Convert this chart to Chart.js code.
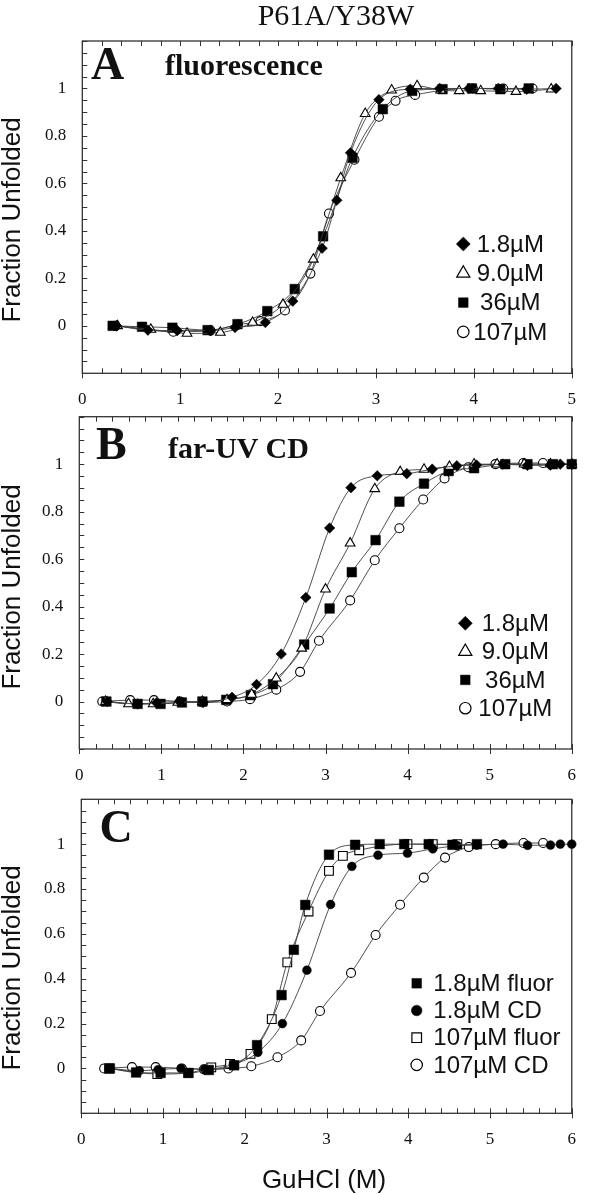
<!DOCTYPE html>
<html>
<head>
<meta charset="utf-8">
<title>P61A/Y38W</title>
<script src="https://cdn.jsdelivr.net/npm/chart.js@4.4.1/dist/chart.umd.min.js"></script>
<style>
  body { margin: 0; background: #fff; }
  #page { position: relative; width: 592px; height: 1194px; overflow: hidden; }
  canvas.panel { position: absolute; left: 0; }
  .txt { position: absolute; white-space: nowrap; line-height: 1; color: #111; }
  .serif { font-family: "Liberation Serif", "Times New Roman", serif; }
  .sans { font-family: "Liberation Sans", Arial, sans-serif; }
  .ytitle { font-size: 26px; transform: translate(-50%, -50%) rotate(-90deg); }
  .letter { font-size: 46px; font-weight: bold; }
  .sub { font-size: 30px; font-weight: bold; }
</style>
</head>
<body>
<div id="page">
  <canvas id="panelA" class="panel" width="592" height="420" style="top:0px"></canvas>
  <canvas id="panelB" class="panel" width="592" height="415" style="top:380px"></canvas>
  <canvas id="panelC" class="panel" width="592" height="424" style="top:770px"></canvas>

  <div class="txt serif" style="left:236px;width:200px;text-align:center;top:0px;font-size:30px">P61A/Y38W</div>

  <div class="txt serif letter" style="left:91px;top:40.5px">A</div>
  <div class="txt serif sub" style="left:165px;top:50px">fluorescence</div>
  <div class="txt serif letter" style="left:96px;top:421px">B</div>
  <div class="txt serif sub" style="left:168px;top:432.5px">far-UV CD</div>
  <div class="txt serif letter" style="left:99.5px;top:803.5px">C</div>

  <div class="txt sans ytitle" style="left:11px;top:220px">Fraction Unfolded</div>
  <div class="txt sans ytitle" style="left:11px;top:587px">Fraction Unfolded</div>
  <div class="txt sans ytitle" style="left:11px;top:968px">Fraction Unfolded</div>
  <div class="txt sans" style="left:324px;top:1179px;font-size:26px;transform:translate(-50%,-50%)">GuHCl (M)</div>
</div>

<script>
// GuHCl (M) and fraction unfolded
// fluorescence
const fl18X  = [0.35, 0.67, 0.97, 1.31, 1.56, 1.87, 2.15, 2.45, 2.60, 2.74, 3.03, 3.35, 3.65, 3.95, 4.25, 4.54, 4.84];
const fl18Y  = [0, -0.018, -0.02, -0.02, -0.007, 0.014, 0.104, 0.327, 0.529, 0.729, 0.953, 0.997, 1.0, 1.0, 1.0, 0.997, 1.0];
const fl90X  = [0.36, 0.70, 1.07, 1.41, 1.74, 2.05, 2.36, 2.64, 2.89, 3.16, 3.42, 3.66, 3.85, 4.07, 4.43, 4.79];
const fl90Y  = [0, -0.015, -0.032, -0.028, 0.014, 0.09, 0.28, 0.623, 0.894, 0.993, 1.011, 0.993, 0.99, 0.99, 0.987, 0.997];
const fl36X  = [0.31, 0.61, 0.92, 1.28, 1.585, 1.89, 2.17, 2.46, 2.76, 3.07, 3.37, 3.68, 3.98, 4.27, 4.56];
const fl36Y  = [0, -0.004, -0.008, -0.018, 0.007, 0.062, 0.155, 0.377, 0.708, 0.913, 0.99, 0.997, 1.0, 0.997, 1.0];
const fl107X = [0.34, 0.93, 1.31, 1.59, 1.82, 2.07, 2.33, 2.52, 2.78, 3.03, 3.20, 3.40, 3.99, 4.30, 4.60];
const fl107Y = [0, -0.025, -0.02, 0.005, 0.02, 0.065, 0.22, 0.473, 0.70, 0.881, 0.948, 0.973, 1.0, 1.0, 1.0];
// far-UV CD
const cd18X  = [0.34, 0.71, 0.94, 1.22, 1.51, 1.86, 2.16, 2.46, 2.76, 3.05, 3.31, 3.63, 3.99, 4.30, 4.60, 4.84, 5.16, 5.46, 5.74, 5.86, 6.0];
const cd18Y  = [0, -0.01, -0.005, 0, -0.003, 0.018, 0.072, 0.20, 0.438, 0.731, 0.901, 0.951, 0.96, 0.979, 0.993, 0.996, 1.0, 0.995, 0.996, 1.0, 1.0];
const cd90X  = [0.32, 0.60, 0.90, 1.20, 1.50, 1.80, 2.10, 2.40, 2.71, 3.00, 3.30, 3.60, 3.91, 4.20, 4.51, 4.81, 5.09, 5.42, 5.74, 6.0];
const cd90Y  = [0, -0.01, -0.01, -0.004, 0, 0.007, 0.03, 0.098, 0.224, 0.473, 0.667, 0.896, 0.968, 0.978, 0.99, 1.0, 1.0, 1.0, 1.0, 1.0];
const cd36X  = [0.33, 0.71, 0.99, 1.25, 1.50, 1.79, 2.09, 2.36, 2.74, 3.05, 3.32, 3.61, 3.90, 4.20, 4.50, 4.81, 5.19, 5.46, 5.77, 6.0];
const cd36Y  = [0, -0.01, -0.01, -0.004, 0, 0.007, 0.027, 0.073, 0.24, 0.392, 0.545, 0.68, 0.842, 0.918, 0.971, 0.983, 1.0, 1.0, 1.0, 1.0];
const cd107X = [0.28, 0.62, 0.91, 1.23, 1.50, 1.80, 2.08, 2.40, 2.69, 2.92, 3.30, 3.60, 3.90, 4.19, 4.45, 4.74, 5.07, 5.41, 5.65];
const cd107Y = [0, 0.006, 0.006, 0, -0.004, 0, 0.01, 0.05, 0.125, 0.256, 0.426, 0.595, 0.73, 0.851, 0.94, 0.987, 1.0, 1.005, 1.005];

const xTickLabels = ['0', '1', '2', '3', '4', '5', '6'];
const yTickLabels = ['0', '0.2', '0.4', '0.6', '0.8', '1'];

// marker looks (SigmaPlot style symbols)
const marks = {
  diamond:  { pointStyle: 'rectRot',  radius: 5.3, legendRadius: 7.0, filled: true },
  triangle: { pointStyle: 'triangle', radius: 5.6, legendRadius: 7.6, filled: false },
  square:   { pointStyle: 'rect',     radius: 6.8, legendRadius: 6.8, filled: true },
  circle:   { pointStyle: 'circle',   radius: 4.5, legendRadius: 5.7, filled: false },
  openSq:   { pointStyle: 'rect',     radius: 6.2, legendRadius: 6.8, filled: false },
  dot:      { pointStyle: 'circle',   radius: 4.4, legendRadius: 5.3, filled: true }
};

function series(label, xs, ys, m) {
  return {
    label: label,
    data: xs.map((x, i) => ({ x: x, y: ys[i] })),
    showLine: true,
    borderColor: '#3c3c3c',
    borderWidth: 0.9,
    cubicInterpolationMode: 'monotone',
    pointStyle: m.pointStyle,
    pointRadius: m.radius,
    pointBackgroundColor: m.filled ? '#000' : '#fff',
    pointBorderColor: '#000',
    pointBorderWidth: m.filled ? 0.5 : 1.1,
    clip: false,
    marker: m
  };
}

// frame, inward ticks and the boxed legend inside the plot
const decor = {
  id: 'decor',
  beforeDatasetsDraw(chart) {
    const ctx = chart.ctx;
    const { left, right, top, bottom } = chart.chartArea;
    const xs = chart.scales.x, ys = chart.scales.y;
    ctx.save();
    ctx.strokeStyle = '#333';
    ctx.lineWidth = 1;
    ctx.beginPath();
    for (let k = 0; k <= xs.max * 5; k++) {
      const px = Math.round(xs.getPixelForValue(k / 5)) + 0.5;
      const major = k % 5 === 0;
      ctx.moveTo(px, bottom - 5);
      ctx.lineTo(px, bottom + (major ? 5 : 0));
      ctx.moveTo(px, top);
      ctx.lineTo(px, top + 5);
    }
    for (let k = -4; k <= 24; k++) {
      const py = Math.round(ys.getPixelForValue(k / 20)) + 0.5;
      ctx.moveTo(left, py);
      ctx.lineTo(left + 5, py);
    }
    ctx.stroke();
    ctx.lineWidth = 1.3;
    ctx.strokeRect(left, top, right - left, bottom - top);
    ctx.restore();
  },
  afterDraw(chart, args, opts) {
    const ctx = chart.ctx;
    const { left, top } = chart.chartArea;
    ctx.save();
    ctx.font = '24px "Liberation Sans", Arial, sans-serif';
    ctx.textBaseline = 'middle';
    ctx.textAlign = opts.align;
    chart.data.datasets.forEach((ds, i) => {
      const m = ds.marker;
      const y = top + opts.rowTop + i * opts.rowGap;
      ctx.fillStyle = m.filled ? '#000' : '#fff';
      ctx.strokeStyle = '#000';
      ctx.lineWidth = m.filled ? 0.5 : 1.2;
      Chart.helpers.drawPoint(ctx, { pointStyle: m.pointStyle, radius: m.legendRadius, rotation: 0, borderWidth: ctx.lineWidth }, left + opts.markX, y);
      ctx.fillStyle = '#111';
      ctx.fillText(ds.label, left + opts.textX, y + 1);
    });
    ctx.restore();
  }
};

function panel(id, datasets, cfg) {
  const tickFont = { family: '"Liberation Serif", "Times New Roman", serif', size: 17 };
  return new Chart(document.getElementById(id), {
    type: 'scatter',
    data: { datasets: datasets },
    options: {
      responsive: false,
      animation: false,
      events: [],
      layout: { autoPadding: false, padding: { top: cfg.padTop, right: cfg.padRight, left: 0, bottom: 0 } },
      plugins: {
        legend: { display: false },
        tooltip: { enabled: false },
        decor: cfg.legend
      },
      scales: {
        x: {
          type: 'linear', min: 0, max: cfg.xMax,
          grid: { display: false, drawTicks: false },
          border: { display: false },
          afterFit: s => { s.height = cfg.xAxisH; },
          ticks: { stepSize: 1, padding: 16, color: '#111', font: tickFont, maxRotation: 0,
                   callback: v => xTickLabels[v] }
        },
        y: {
          type: 'linear', min: -0.2, max: 1.2,
          grid: { display: false, drawTicks: false },
          border: { display: false },
          afterFit: s => { s.width = cfg.yAxisW; },
          ticks: { stepSize: 0.2, padding: 16, color: '#111', font: tickFont,
                   callback: v => { const i = Math.round(v / 0.2); return (i >= 0 && i < yTickLabels.length) ? yTickLabels[i] : null; } }
        }
      }
    },
    plugins: [decor]
  });
}

panel('panelA', [
  series('1.8\u00b5M', fl18X, fl18Y, marks.diamond),
  series('9.0\u00b5M', fl90X, fl90Y, marks.triangle),
  series('36\u00b5M', fl36X, fl36Y, marks.square),
  series('107\u00b5M', fl107X, fl107Y, marks.circle)
], { xMax: 5, padTop: 41, padRight: 4, xAxisH: 46.7, yAxisW: 82.3,
     legend: { align: 'center', markX: 381, textX: 428, rowTop: 203, rowGap: 29.3 } });

panel('panelB', [
  series('1.8\u00b5M', cd18X, cd18Y, marks.diamond),
  series('9.0\u00b5M', cd90X, cd90Y, marks.triangle),
  series('36\u00b5M', cd36X, cd36Y, marks.square),
  series('107\u00b5M', cd107X, cd107Y, marks.circle)
], { xMax: 6, padTop: 36.7, padRight: 6, xAxisH: 46, yAxisW: 79.3,
     legend: { align: 'center', markX: 386, textX: 436, rowTop: 206.6, rowGap: 28.3 } });

panel('panelC', [
  series('1.8\u00b5M fluor', fl18X, fl18Y, marks.square),
  series('1.8\u00b5M CD', cd18X, cd18Y, marks.dot),
  series('107\u00b5M fluor', fl107X, fl107Y, marks.openSq),
  series('107\u00b5M CD', cd107X, cd107Y, marks.circle)
], { xMax: 6, padTop: 29.3, padRight: 10.3, xAxisH: 80.7, yAxisW: 81.3,
     legend: { align: 'left', markX: 335.4, textX: 352, rowTop: 184, rowGap: 27.2 } });
</script>
</body>
</html>
